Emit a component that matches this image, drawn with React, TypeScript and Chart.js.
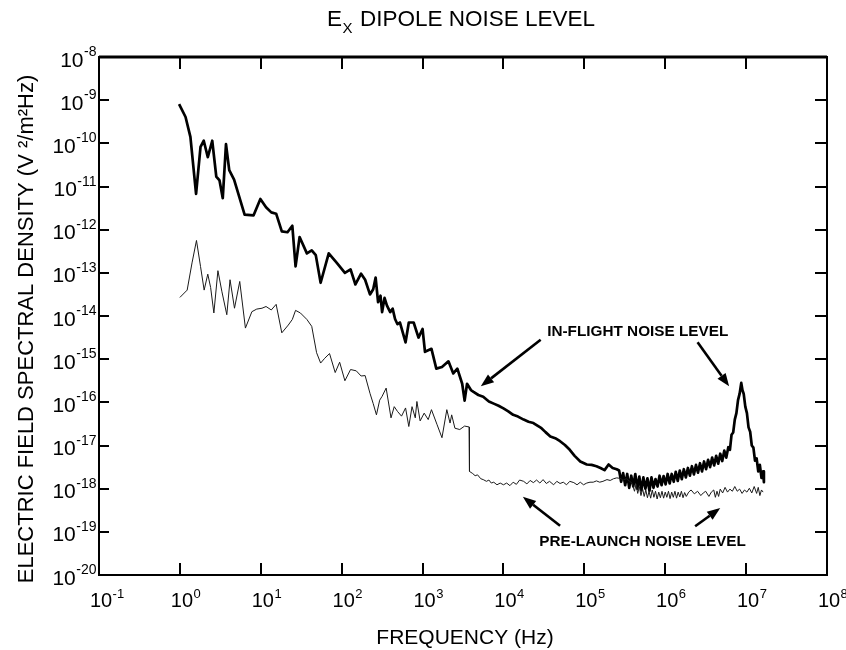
import { useEffect, useRef } from "react";
import { Chart, registerables } from "chart.js";

Chart.register(...registerables);

// log10(frequency in Hz) and log10(spectral density in V^2/m^2Hz)
const inFlightLogFreq = [
  -0.01, 0.07, 0.13, 0.2, 0.255, 0.295, 0.345, 0.4, 0.45, 0.49, 0.53, 0.57, 0.61, 0.67, 0.8, 0.91, 0.995, 1.065, 1.13, 1.19,
  1.26, 1.33, 1.39, 1.43, 1.48, 1.57, 1.63, 1.68, 1.74, 1.84, 1.94, 2.04, 2.11, 2.17, 2.24, 2.29, 2.35, 2.39, 2.42, 2.45,
  2.48, 2.5, 2.53, 2.56, 2.6, 2.63, 2.66, 2.69, 2.72, 2.79, 2.83, 2.89, 2.95, 3.0, 3.03, 3.11, 3.17, 3.24, 3.32, 3.38,
  3.43, 3.49, 3.52, 3.55, 3.6, 3.63, 3.69, 3.75, 3.82, 3.88, 3.94, 4.0, 4.06, 4.12, 4.18, 4.25, 4.31, 4.37, 4.42, 4.47,
  4.52, 4.58, 4.64, 4.7, 4.76, 4.82, 4.88, 4.95, 5.03, 5.09, 5.15, 5.2, 5.25, 5.3, 5.35, 5.4,
  5.43, 5.455, 5.48, 5.505, 5.53, 5.555, 5.58, 5.605, 5.63, 5.655, 5.68, 5.705, 5.73, 5.755, 5.78, 5.805, 5.83, 5.855, 5.88, 5.905,
  5.93, 5.955, 5.98, 6.005, 6.03, 6.055, 6.08, 6.105, 6.13, 6.155, 6.18, 6.205, 6.23, 6.255, 6.28, 6.305, 6.33, 6.355, 6.38, 6.405,
  6.43, 6.455, 6.48, 6.505, 6.53, 6.555, 6.58, 6.605, 6.63, 6.655, 6.68, 6.705, 6.73, 6.755, 6.78, 6.8, 6.82, 6.84, 6.86, 6.88,
  6.9, 6.92, 6.94, 6.955, 6.97, 6.99, 7.01, 7.03, 7.05, 7.07, 7.09, 7.11, 7.13, 7.15, 7.17, 7.19, 7.21, 7.22,
];
const inFlightLogPSD = [
  -9.09, -9.39, -9.85, -11.17, -10.08, -9.94, -10.32, -9.94, -10.77, -10.86, -11.27, -10.02, -10.62, -10.84, -11.65, -11.67, -11.29, -11.48, -11.6, -11.63,
  -12.04, -12.06, -11.91, -12.85, -12.17, -12.55, -12.48, -12.59, -13.23, -12.55, -12.77, -13.0, -12.92, -13.27, -13.02, -13.16, -13.5, -13.38, -13.11, -13.68,
  -13.53, -13.91, -13.58, -13.76, -13.91, -13.83, -14.07, -14.19, -14.15, -14.61, -14.15, -14.15, -14.5, -14.3, -14.83, -14.76, -15.22, -15.18, -15.05, -15.33,
  -15.22, -15.57, -15.96, -15.57, -15.72, -15.76, -15.83, -15.87, -15.98, -16.03, -16.08, -16.14, -16.21, -16.29, -16.33, -16.4, -16.45, -16.48, -16.54, -16.6,
  -16.69, -16.79, -16.83, -16.9, -16.99, -17.1, -17.24, -17.37, -17.44, -17.45, -17.48, -17.52, -17.57, -17.44, -17.52, -17.55,
  -17.58, -17.84, -17.64, -17.92, -17.66, -17.98, -17.7, -17.95, -17.66, -18.0, -17.72, -18.04, -17.74, -18.0, -17.76, -18.05, -17.74, -17.98, -17.78, -17.95,
  -17.7, -17.92, -17.71, -17.9, -17.66, -17.88, -17.66, -17.84, -17.61, -17.82, -17.58, -17.78, -17.55, -17.74, -17.52, -17.7, -17.48, -17.67, -17.45, -17.63,
  -17.41, -17.6, -17.37, -17.55, -17.33, -17.5, -17.28, -17.46, -17.24, -17.42, -17.19, -17.36, -17.12, -17.28, -17.04, -17.1, -16.75, -16.7, -16.4, -16.25,
  -15.95, -15.8, -15.55, -15.72, -15.8, -16.1, -16.25, -16.58, -16.68, -17.0, -17.05, -17.35, -17.3, -17.6, -17.45, -17.75, -17.6, -17.85,
];

const preLaunchLogFreq = [
  0.0, 0.09, 0.15, 0.205, 0.255, 0.3, 0.345, 0.38, 0.42, 0.47, 0.52, 0.58, 0.62, 0.675, 0.74, 0.81, 0.89, 0.95, 1.015, 1.065,
  1.13, 1.19, 1.26, 1.34, 1.39, 1.43, 1.49, 1.57, 1.63, 1.69, 1.74, 1.79, 1.85, 1.92, 1.975, 2.04, 2.11, 2.18, 2.24, 2.29,
  2.35, 2.39, 2.43, 2.47, 2.5, 2.55, 2.61, 2.65, 2.69, 2.74, 2.79, 2.83, 2.87, 2.91, 2.93, 2.97, 3.02, 3.07, 3.11, 3.18,
  3.24, 3.3, 3.34, 3.36, 3.4, 3.46, 3.52, 3.575, 3.58, 3.62, 3.65, 3.68, 3.72, 3.75, 3.79, 3.82, 3.85, 3.88, 3.92, 3.96,
  4.0, 4.04, 4.08, 4.12, 4.16, 4.2, 4.25, 4.29, 4.33, 4.37, 4.41, 4.45, 4.49, 4.53, 4.57, 4.62, 4.66, 4.7, 4.74, 4.78,
  4.82, 4.87, 4.91, 4.95, 4.99, 5.03, 5.07, 5.11, 5.15, 5.19, 5.23, 5.28, 5.32, 5.36, 5.4, 5.44, 5.48, 5.52, 5.56,
  5.59, 5.62, 5.64, 5.66, 5.68, 5.7, 5.72, 5.74, 5.76, 5.78, 5.8, 5.82, 5.84, 5.86, 5.88, 5.9, 5.92, 5.94, 5.96, 5.98,
  6.0, 6.02, 6.04, 6.06, 6.08, 6.1, 6.12, 6.14, 6.16, 6.18, 6.2, 6.22, 6.24, 6.26, 6.29,
  6.32, 6.36, 6.4, 6.44, 6.47, 6.5, 6.54, 6.57, 6.6, 6.62, 6.64, 6.66, 6.68, 6.71, 6.74, 6.77, 6.8, 6.83, 6.86, 6.89,
  6.92, 6.95, 6.98, 7.01, 7.04, 7.07, 7.1, 7.13, 7.15, 7.17, 7.19, 7.21,
];
const preLaunchLogPSD = [
  -13.57, -13.4, -12.77, -12.25, -12.85, -13.4, -13.03, -13.34, -13.93, -12.95, -13.44, -13.97, -13.16, -13.82, -13.2, -14.28, -13.9, -13.84, -13.82, -13.78,
  -13.86, -13.73, -14.39, -14.21, -14.08, -13.87, -13.93, -14.08, -14.24, -14.85, -15.09, -14.98, -14.87, -15.31, -15.07, -15.5, -15.24, -15.27, -15.39, -15.38,
  -15.79, -16.03, -16.29, -15.95, -15.86, -15.67, -16.36, -16.1, -16.21, -16.32, -16.13, -16.56, -16.1, -16.36, -15.98, -16.43, -16.25, -16.4, -16.17, -16.52,
  -16.82, -16.17, -16.48, -16.29, -16.6, -16.63, -16.55, -16.57, -17.6, -17.65, -17.7, -17.68, -17.77, -17.79, -17.83, -17.8, -17.87, -17.85, -17.91, -17.87,
  -17.91, -17.87, -17.93, -17.85, -17.9, -17.8, -17.83, -17.89, -17.81, -17.86, -17.8, -17.87, -17.79, -17.88, -17.83, -17.91, -17.83, -17.88, -17.85, -17.91,
  -17.83, -17.86, -17.91, -17.85, -17.91, -17.87, -17.85, -17.85, -17.82, -17.85, -17.83, -17.79, -17.81, -17.77, -17.75, -17.76, -17.8, -17.77, -17.83,
  -17.87, -18.06, -17.9, -18.11, -17.95, -18.16, -18.0, -18.18, -18.03, -18.21, -18.06, -18.22, -18.03, -18.2, -18.06, -18.24, -18.08, -18.21, -18.06, -18.22,
  -18.08, -18.2, -18.06, -18.23, -18.08, -18.2, -18.06, -18.22, -18.08, -18.19, -18.06, -18.21, -18.09, -18.18, -18.08,
  -18.03, -18.12, -18.06, -18.16, -18.1, -18.06, -18.18, -18.08, -18.03, -18.2, -18.06, -18.18, -18.01, -18.1, -17.97, -18.08, -18.01, -18.06, -17.95, -18.06,
  -18.01, -18.11, -18.03, -18.08, -17.99, -18.1, -17.95, -18.11, -17.97, -18.16, -18.03, -18.08,
];

const xTickExponents = [-1, 0, 1, 2, 3, 4, 5, 6, 7, 8];
const yTickExponents = [-8, -9, -10, -11, -12, -13, -14, -15, -16, -17, -18, -19, -20];

const chartTitleMain = "E";
const chartTitleSub = "X";
const chartTitleRest = "DIPOLE NOISE LEVEL";
const xAxisTitle = "FREQUENCY (Hz)";
const yAxisTitle = "ELECTRIC FIELD SPECTRAL DENSITY (V \u00B2/m\u00B2Hz)";

// annotation labels and arrows, positioned in data space (log10 freq, log10 density)
const labelTexts = ["IN-FLIGHT NOISE LEVEL", "PRE-LAUNCH NOISE LEVEL"];
const labelLogFreq = [5.66, 5.72];
const labelLogPSD = [-14.36, -19.22];
const arrowFromLogFreq = [4.46, 6.4, 4.7, 6.37];
const arrowFromLogPSD = [-14.55, -14.61, -18.86, -18.87];
const arrowToLogFreq = [3.72, 6.79, 4.24, 6.68];
const arrowToLogPSD = [-15.63, -15.63, -18.19, -18.45];

const FONT = '"Liberation Sans", Arial, Helvetica, sans-serif';

const framePlugin = {
  id: "frameAndLabels",
  afterDraw(chart: any) {
    const ctx: CanvasRenderingContext2D = chart.ctx;
    const { left, right, top, bottom } = chart.chartArea;
    const xs = chart.scales.x;
    const ys = chart.scales.y;
    ctx.save();
    ctx.strokeStyle = "#000";
    ctx.fillStyle = "#000";

    // frame
    ctx.lineWidth = 2;
    ctx.strokeRect(left, top, right - left, bottom - top);
    ctx.beginPath();
    ctx.moveTo(left, top);
    ctx.lineTo(right, top);
    ctx.lineWidth = 3;
    ctx.stroke();

    // ticks (inward)
    ctx.lineWidth = 2;
    ctx.beginPath();
    for (const e of xTickExponents) {
      const px = Math.round(xs.getPixelForValue(Math.pow(10, e)));
      ctx.moveTo(px, bottom);
      ctx.lineTo(px, bottom - 12);
      ctx.moveTo(px, top);
      ctx.lineTo(px, top + 12);
    }
    for (const e of yTickExponents) {
      const py = Math.round(ys.getPixelForValue(Math.pow(10, e)));
      ctx.moveTo(left, py);
      ctx.lineTo(left + 10, py);
      ctx.moveTo(right, py);
      ctx.lineTo(right - 12, py);
    }
    ctx.stroke();

    // y tick labels
    ctx.textBaseline = "alphabetic";
    for (const e of yTickExponents) {
      const py = ys.getPixelForValue(Math.pow(10, e));
      const exp = String(e);
      ctx.font = `14px ${FONT}`;
      const ew = ctx.measureText(exp).width;
      ctx.textAlign = "left";
      const expX = 96.5 - ew;
      ctx.fillText(exp, expX, py - 1);
      ctx.font = `21px ${FONT}`;
      ctx.textAlign = "right";
      ctx.fillText("10", expX - 0.5, py + 9.5);
    }

    // x tick labels
    for (const e of xTickExponents) {
      const px = xs.getPixelForValue(Math.pow(10, e));
      ctx.font = `20px ${FONT}`;
      ctx.textAlign = "center";
      const cx = px + 2;
      ctx.fillText("10", cx, 607);
      const w = ctx.measureText("10").width;
      ctx.font = `13px ${FONT}`;
      ctx.textAlign = "left";
      ctx.fillText(String(e), cx + w / 2 + 0.5, 598);
    }

    // title
    ctx.textAlign = "left";
    ctx.font = `22.5px ${FONT}`;
    ctx.fillText(chartTitleMain, 327, 26);
    const ew = ctx.measureText(chartTitleMain).width;
    ctx.font = `15px ${FONT}`;
    ctx.fillText(chartTitleSub, 327 + ew + 0.5, 33);
    ctx.font = `22.5px ${FONT}`;
    ctx.fillText(chartTitleRest, 360, 26);

    // x axis title
    ctx.textAlign = "center";
    ctx.font = `21px ${FONT}`;
    ctx.fillText(xAxisTitle, 465, 644);

    // y axis title
    ctx.save();
    ctx.translate(33, 329);
    ctx.rotate(-Math.PI / 2);
    ctx.textAlign = "center";
    ctx.font = `22px ${FONT}`;
    ctx.fillText(yAxisTitle, 0, 0);
    ctx.restore();

    // annotations
    ctx.font = `bold 15.3px ${FONT}`;
    ctx.textAlign = "center";
    ctx.textBaseline = "middle";
    labelTexts.forEach((t, i) => {
      const px = xs.getPixelForValue(Math.pow(10, labelLogFreq[i]));
      const py = ys.getPixelForValue(Math.pow(10, labelLogPSD[i]));
      ctx.fillText(t, px, py);
    });

    arrowFromLogFreq.forEach((_, i) => {
      const x1 = xs.getPixelForValue(Math.pow(10, arrowFromLogFreq[i]));
      const y1 = ys.getPixelForValue(Math.pow(10, arrowFromLogPSD[i]));
      const x2 = xs.getPixelForValue(Math.pow(10, arrowToLogFreq[i]));
      const y2 = ys.getPixelForValue(Math.pow(10, arrowToLogPSD[i]));
      const ang = Math.atan2(y2 - y1, x2 - x1);
      const headLen = 13;
      const headW = 5;
      const bx = x2 - headLen * Math.cos(ang);
      const by = y2 - headLen * Math.sin(ang);
      ctx.lineWidth = 2.6;
      ctx.beginPath();
      ctx.moveTo(x1, y1);
      ctx.lineTo(bx, by);
      ctx.stroke();
      ctx.beginPath();
      ctx.moveTo(x2, y2);
      ctx.lineTo(bx + headW * Math.sin(ang), by - headW * Math.cos(ang));
      ctx.lineTo(bx - headW * Math.sin(ang), by + headW * Math.cos(ang));
      ctx.closePath();
      ctx.fill();
    });

    ctx.restore();
  },
};

export default function App() {
  const canvasRef = useRef<HTMLCanvasElement | null>(null);

  useEffect(() => {
    const canvas = canvasRef.current;
    if (!canvas) return;
    const inFlight = inFlightLogFreq.map((f, i) => ({ x: Math.pow(10, f), y: Math.pow(10, inFlightLogPSD[i]) }));
    const preLaunch = preLaunchLogFreq.map((f, i) => ({ x: Math.pow(10, f), y: Math.pow(10, preLaunchLogPSD[i]) }));
    const chart = new Chart(canvas, {
      type: "line",
      data: {
        datasets: [
          {
            label: "Pre-launch noise level",
            data: preLaunch,
            borderColor: "#1a1a1a",
            borderWidth: 1,
            pointRadius: 0,
            tension: 0,
            borderJoinStyle: "round",
          },
          {
            label: "In-flight noise level",
            data: inFlight,
            borderColor: "#000",
            borderWidth: 2.7,
            pointRadius: 0,
            tension: 0,
            borderJoinStyle: "round",
          },
        ],
      },
      options: {
        animation: false,
        responsive: false,
        devicePixelRatio: 1,
        parsing: false,
        layout: { padding: { left: 99, right: 19, top: 57, bottom: 75 } },
        plugins: { legend: { display: false }, tooltip: { enabled: false }, title: { display: false } },
        scales: {
          x: { type: "logarithmic", min: 0.1, max: 1e8, display: false },
          y: { type: "logarithmic", min: 1e-20, max: 1e-8, display: false },
        },
      },
      plugins: [framePlugin],
    } as any);
    return () => chart.destroy();
  }, []);

  return (
    <div style={{ position: "fixed", left: 0, top: 0, width: 846, height: 650, background: "#fff" }}>
      <canvas ref={canvasRef} width={846} height={650} style={{ width: 846, height: 650 }} />
    </div>
  );
}
